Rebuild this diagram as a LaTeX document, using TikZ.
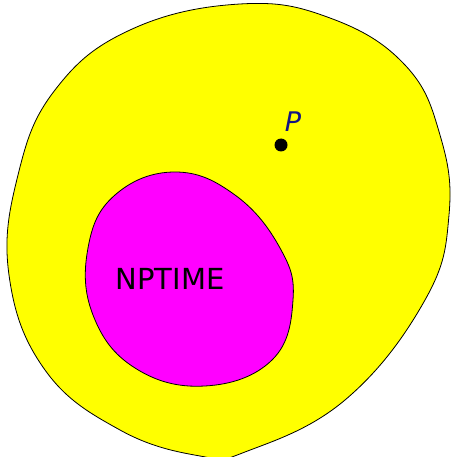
\documentclass[tikz,border=0pt]{standalone}
\usepackage{fontspec}
\setmainfont{DejaVu Sans}
\usetikzlibrary{calc}
\definecolor{pblue}{RGB}{20,20,130}
\definecolor{ryellow}{RGB}{255,255,0}
\definecolor{rmagenta}{RGB}{255,0,255}
\tikzset{
  blob/.style={draw=black, line width=0.8pt},
  lbl/.style={inner sep=0pt, font=\fontsize{29}{29}\selectfont}
}
\begin{document}
\begin{tikzpicture}[x=1pt,y=-1pt]
\useasboundingbox (0,0) rectangle (450,457);
\draw[blob, fill=ryellow] plot[smooth cycle, tension=0.7] coordinates {
 (240,4) (330,18) (405,65) (440,135) (449,215) (425,300) (345,400) (245,452) (200,456) (120,430) (45,370) (9,275) (18,175) (55,90) (130,30)};
\draw[blob, fill=rmagenta] plot[smooth cycle, tension=0.7] coordinates {
 (175,172) (235,195) (280,248) (293,300) (272,360) (205,386) (135,368) (93,315) (88,248) (115,195)};
\node[lbl] (np) at (170,279) {NPTIME};
\fill (281,145) circle (6.5);
\coordinate (dot) at (281,145);
\node[lbl, text=pblue, font=\fontsize{27}{27}\selectfont\itshape] (p) at (293,122) {P};
\end{tikzpicture}
\end{document}
